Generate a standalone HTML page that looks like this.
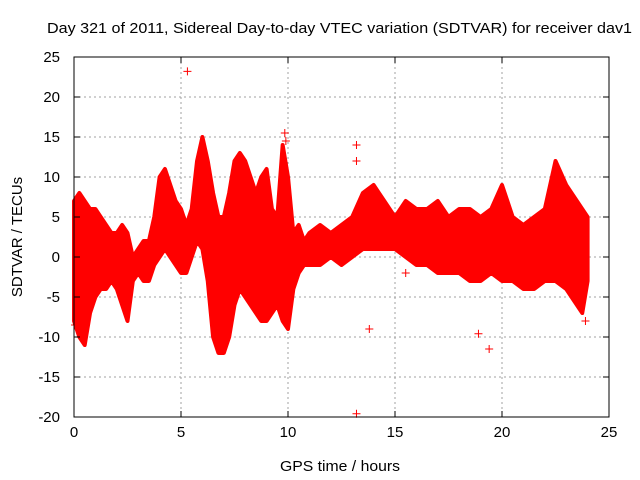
<!DOCTYPE html>
<html><head><meta charset="utf-8"><style>
body{margin:0;background:#fff}
svg{display:block;font-family:"Liberation Sans",sans-serif}
</style></head><body>
<svg id="chart" width="640" height="480" viewBox="0 0 640 480">
<text x="47" y="33" font-size="15" textLength="585" lengthAdjust="spacingAndGlyphs" fill="#000">Day 321 of 2011, Sidereal Day-to-day VTEC variation (SDTVAR) for receiver dav1</text>
<g id="grid"></g>
<g id="data"></g>
<g id="axes"></g>
<text x="280" y="471" font-size="15" textLength="120" lengthAdjust="spacingAndGlyphs">GPS time / hours</text>
<text transform="translate(22,237) rotate(-90)" font-size="15" text-anchor="middle">SDTVAR / TECUs</text>
</svg>
<script>
const xTicks=[0,5,10,15,20,25];
const yTicks=[-20,-15,-10,-5,0,5,10,15,20,25];
const hours=[0,0.25,0.5,0.75,1,1.25,1.5,1.75,2,2.25,2.5,2.75,3,3.25,3.5,3.75,4,4.25,4.5,4.75,5,5.25,5.5,5.75,6,6.25,6.5,6.75,7,7.25,7.5,7.75,8,8.25,8.5,8.75,9,9.25,9.5,9.75,10,10.25,10.5,10.75,11,11.5,12,12.5,13,13.5,14,14.5,15,15.5,16,16.5,17,17.5,18,18.5,19,19.5,20,20.5,21,21.5,22,22.5,23,23.5,23.75,24];
const lowVals=[-8,-10,-11,-7,-5,-4,-4,-3,-4,-6,-8,-3,-2,-3,-3,-1,0,1,0,-1,-2,-2,0,2,1,-3,-10,-12,-12,-10,-6,-4,-5,-6,-7,-8,-8,-7,-6,-8,-9,-4,-2,-1,-1,-1,0,-1,0,1,1,1,1,0,-1,-1,-2,-2,-2,-3,-3,-2,-3,-3,-4,-4,-3,-3,-4,-6,-7,-3];
const highVals=[7,8,7,6,6,5,4,3,3,4,3,0,1,2,2,5,10,11,9,7,6,4,6,12,15,12,8,5,5,8,12,13,12,10,8,10,11,6,5,14,10,3,4,2,3,4,3,4,5,8,9,7,5,7,6,6,7,5,6,6,5,6,9,5,4,5,6,12,9,7,6,5];
const outX=[5.3,13.2,13.2,13.2,19.4,18.9,13.8,15.5,9.85,9.9,0.05,23.9];
const outY=[23.2,-19.6,14,12,-11.5,-9.6,-9,-2,15.5,14.5,-8.5,-8];
const L=74,R=609,T=57,B=417;
const sx=v=>L+(v-0)/(25-0)*(R-L);
const sy=v=>B-(v+20)/(45)*(B-T);
const NS="http://www.w3.org/2000/svg";
function mk(tag,attrs,parent){const e=document.createElementNS(NS,tag);for(const k in attrs)e.setAttribute(k,attrs[k]);parent.appendChild(e);return e;}
const grid=document.getElementById('grid'),axes=document.getElementById('axes'),data=document.getElementById('data');
xTicks.forEach(t=>{
  if(t>0&&t<25){const g=mk('line',{x1:sx(t),x2:sx(t),y1:T,y2:B,stroke:'#a0a0a0','stroke-dasharray':'2,3'},grid);
  
  }
  mk('line',{x1:sx(t),x2:sx(t),y1:B,y2:B-6,stroke:'#000'},axes);
  mk('line',{x1:sx(t),x2:sx(t),y1:T,y2:T+6,stroke:'#000'},axes);
  const tx=mk('text',{x:sx(t),y:B+20,'font-size':15,'text-anchor':'middle'},axes);
  tx.textContent=t;
  
  
});
yTicks.forEach(t=>{
  if(t>-20&&t<25){const g=mk('line',{x1:L,x2:R,y1:sy(t),y2:sy(t),stroke:'#a0a0a0','stroke-dasharray':'2,3'},grid);
  
  }
  mk('line',{x1:L,x2:L+6,y1:sy(t),y2:sy(t),stroke:'#000'},axes);
  mk('line',{x1:R,x2:R-6,y1:sy(t),y2:sy(t),stroke:'#000'},axes);
  const tx=mk('text',{x:L-14,y:sy(t)+5,'font-size':15,'text-anchor':'end'},axes);
  tx.textContent=t;
  
  
});
const fr=mk('rect',{x:L,y:T,width:R-L,height:B-T,fill:'none',stroke:'#000'},axes);


let pts=hours.map((h,i)=>sx(h)+','+sy(highVals[i]));
for(let i=hours.length-1;i>=0;i--)pts.push(sx(hours[i])+','+sy(lowVals[i]));
const band=mk('polygon',{points:pts.join(' '),fill:'#ff0000',stroke:'#ff0000','stroke-width':4,'stroke-linejoin':'round'},data);


function plus(x,y){const p=mk('path',{d:`M${x-4},${y}h8M${x},${y-4}v8`,stroke:'#ff0000','stroke-width':1},data);

}
outX.forEach((h,i)=>plus(sx(h),sy(outY[i])));
</script>
</body></html>
